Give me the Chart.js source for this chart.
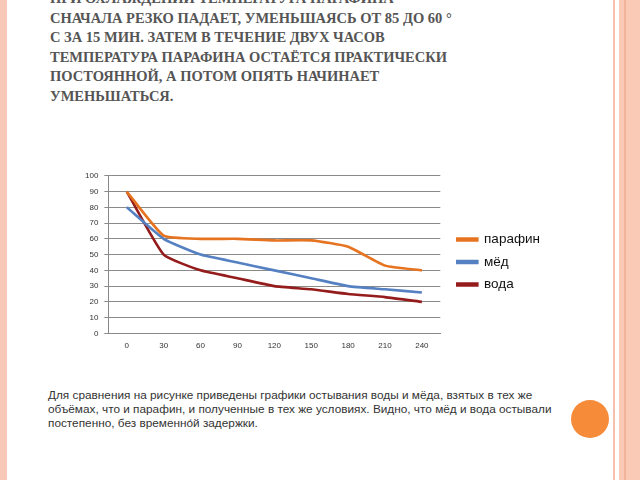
<!DOCTYPE html>
<html>
<head>
<meta charset="utf-8">
<script src="https://cdn.jsdelivr.net/npm/chart.js@4.4.1/dist/chart.umd.min.js"></script>
<style>
  html,body{margin:0;padding:0;background:#fff}
  #slide{position:relative;width:640px;height:480px;overflow:hidden;background:#fff}
  .lstrip{position:absolute;left:0;top:0;width:7px;height:480px;background:#f8c8b8}
  .rline{position:absolute;left:613px;top:0;width:2px;height:480px;background:#f6bfae}
  .rband{position:absolute;left:619px;top:0;width:21px;height:480px;background:#fbcab7}
  .rband2{position:absolute;left:624px;top:0;width:2px;height:480px;background:#f3b49c}
  .title{position:absolute;left:50px;top:-11px;font:bold 14.5px "Liberation Serif",serif;color:#555;line-height:19.6px;white-space:nowrap}
  .note{position:absolute;left:48px;top:388px;font:11.8px "Liberation Sans",Arial,sans-serif;color:#333;line-height:14px;white-space:nowrap}
  .dot{position:absolute;left:571px;top:400px;width:38px;height:38px;border-radius:50%;background:#f68b3a}
  #wrap{position:absolute;left:79px;top:165px;width:471px;height:190px}
</style>
</head>
<body>
<div id="slide">
  <div class="lstrip"></div>
  <div class="rline"></div>
  <div class="rband"></div>
  <div class="rband2"></div>
  <div class="title">ПРИ ОХЛАЖДЕНИИ ТЕМПЕРАТУРА ПАРАФИНА<br>СНАЧАЛА РЕЗКО ПАДАЕТ, УМЕНЬШАЯСЬ ОТ 85 ДО 60 °<br>С ЗА 15 МИН. ЗАТЕМ В ТЕЧЕНИЕ ДВУХ ЧАСОВ<br>ТЕМПЕРАТУРА ПАРАФИНА ОСТАЁТСЯ ПРАКТИЧЕСКИ<br>ПОСТОЯННОЙ, А ПОТОМ ОПЯТЬ НАЧИНАЕТ<br>УМЕНЬШАТЬСЯ.</div>
  <div id="wrap"><canvas id="chart"></canvas></div>
  <div class="note">Для сравнения на рисунке приведены графики остывания воды и мёда, взятых в тех же<br>объёмах, что и парафин, и полученные в тех же условиях. Видно, что мёд и вода остывали<br>постепенно, без временно́й задержки.</div>
  <div class="dot"></div>
</div>
<script>
  // Data
  const minutes  = ['0','30','60','90','120','150','180','210','240']
  const paraffin = [90, 62, 60, 60, 59, 59, 55, 43, 40]
  const honey    = [80, 60, 50, 45, 40, 35, 30, 28, 26]
  const water    = [90, 50, 40, 35, 30, 28, 25, 23, 20]

  const ctx = document.getElementById('chart').getContext('2d')
  new Chart(ctx, {
    type: 'line',
    data: {
      labels: minutes,
      datasets: [
        { label: 'парафин', data: paraffin, borderColor: '#e6731f', backgroundColor: '#e6731f' },
        { label: 'мёд',     data: honey,    borderColor: '#5580c2', backgroundColor: '#5580c2' },
        { label: 'вода',    data: water,    borderColor: '#951c1c', backgroundColor: '#951c1c' }
      ]
    },
    options: {
      responsive: true,
      maintainAspectRatio: false,
      animation: false,
      elements: {
        line: { borderWidth: 2.6, tension: 0.15 },
        point: { radius: 0 }
      },
      layout: { padding: { left: 0, right: 0, top: 4, bottom: 0 } },
      plugins: {
        legend: {
          position: 'right',
          align: 'center',
          maxWidth: 140,
          labels: {
            boxWidth: 20, boxHeight: 2, padding: 9,
            color: '#111',
            font: { family: 'Liberation Sans', size: 13.5 }
          }
        },
        tooltip: { enabled: false }
      },
      scales: {
        x: {
          offset: true,
          grid: { display: false, drawOnChartArea: false, offset: true, tickLength: 4, color: '#888' },
          border: { color: '#888' },
          ticks: { color: '#333', font: { family: 'Liberation Sans', size: 8 }, padding: 4 }
        },
        y: {
          min: 0, max: 100,
          ticks: { stepSize: 10, color: '#333', font: { family: 'Liberation Sans', size: 8 }, padding: 6 },
          grid: { color: '#8a8a8a', tickLength: 4, lineWidth: 1 },
          border: { color: '#888' }
        },
        // empty right axis: only keeps a gap between plot and legend
        gap: {
          position: 'right', min: 0, max: 100,
          grid: { display: false }, border: { display: false },
          ticks: { display: false },
          afterFit: s => { s.width = 8 }
        }
      }
    }
  })
</script>
</body>
</html>
